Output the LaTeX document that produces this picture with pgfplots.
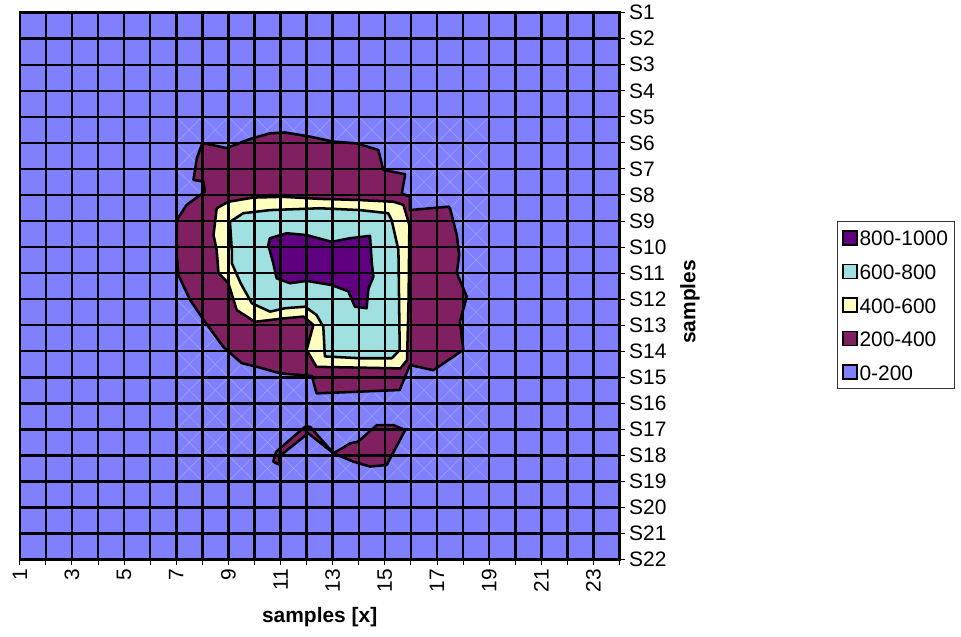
\documentclass[border=0pt]{standalone}
\usepackage{pgfplots}
\pgfplotsset{compat=1.18}
\usepackage{fontspec}
\setmainfont{Liberation Sans}

\definecolor{bandA}{HTML}{8080FF} % 0-200
\definecolor{bandB}{HTML}{802060} % 200-400
\definecolor{bandC}{HTML}{FFFFC0} % 400-600
\definecolor{bandD}{HTML}{A0E0E0} % 600-800
\definecolor{bandE}{HTML}{600080} % 800-1000

\newcommand{\chartfont}{\fontsize{15.7}{18}\selectfont}

\begin{document}
\begin{tikzpicture}
\path[use as bounding box] (0,0) rectangle (720.75pt,-477pt);
\begin{axis}[
  at={(14.85pt,-9.525pt)}, anchor=north west,
  scale only axis, width=449.8pt, height=410.1pt,
  xmin=1, xmax=24, ymin=1, ymax=22,
  y dir=reverse,
  axis on top,
  xtick={1,...,24},
  xticklabels={1,,3,,5,,7,,9,,11,,13,,15,,17,,19,,21,,23,},
  ytick={1,...,22},
  yticklabels={S1,S2,S3,S4,S5,S6,S7,S8,S9,S10,S11,S12,S13,S14,S15,S16,S17,S18,S19,S20,S21,S22},
  xtick pos=lower, ytick pos=right, yticklabel pos=right,
  tick align=outside, major tick length=3.75pt,
  tick style={black, line width=0.75pt},
  grid=major, major grid style={black, line width=1.9pt},
  axis line style={black, line width=1.9pt},
  ticklabel style={font=\chartfont},
  xticklabel style={rotate=90, anchor=east},
  xlabel={\bfseries samples [x]},
  xlabel style={font=\chartfont, at={(axis description cs:0.5,-0.1143)}, anchor=base},
  ylabel={\bfseries samples},
  ylabel style={font=\chartfont, at={(axis description cs:1.1176,0.471)}, anchor=center, rotate=0},
  legend style={
    at={(axis description cs:1.3622,0.6196)}, anchor=north west,
    draw=black!80, line width=0.75pt, fill=white,
    font=\chartfont,
    inner xsep=3.5pt, inner ysep=4.5pt,
    row sep=9.2pt, column sep=0pt,
    nodes={inner xsep=1.5pt, inner ysep=2pt, text height=12pt, text depth=0pt},
  },
  legend cell align=left,
  legend image code/.code={\draw[#1, draw=black, line width=1.2pt] (0pt,-5.25pt) rectangle (10.5pt,5.25pt);},
]

% 0-200 band covers the whole surface
\addplot[fill=bandA, draw=none, forget plot] coordinates {(1,1) (24,1) (24,22) (1,22) (1,1)};

% faint surface triangulation around the peak
\pgfplotsinvokeforeach{-13,...,11}{
  \draw[white, opacity=0.22, line width=0.5pt]
    (axis cs:{max(7,5-#1)},{max(7,5-#1)+#1}) -- (axis cs:{min(19,19-#1)},{min(19,19-#1)+#1});
}
\pgfplotsinvokeforeach{13,...,37}{
  \draw[white, opacity=0.22, line width=0.5pt]
    (axis cs:{max(7,#1-19)},{#1-max(7,#1-19)}) -- (axis cs:{min(19,#1-5)},{#1-min(19,#1-5)});
}

\begin{scope}[line join=round, line cap=round]
% 200-400 main region
\addplot[fill=bandB, draw=black, line width=1.9pt, forget plot] coordinates {
 (8.0,6.0) (8.93,6.2) (9.83,5.85) (10.6,5.63) (11.17,5.6) (12.13,5.76)
 (13.03,5.95) (13.92,6.02) (14.75,6.27) (14.94,7.04) (15.78,7.2) (15.65,7.94)
 (15.96,8.07) (15.96,8.58) (17.44,8.45) (17.5,8.51) (17.76,9.54) (17.85,10.3)
 (17.76,11.0) (18.14,11.9) (17.88,12.87) (18.01,13.95) (16.86,14.73) (15.96,14.53)
 (15.57,15.49) (12.38,15.62) (12.2,14.95) (10.98,14.85) (10.1,14.6) (9.51,14.46)
 (8.8,13.83) (8.1,12.87) (7.53,12.03) (7.08,11.07) (7.02,10.3) (7.02,8.96)
 (7.4,8.38) (8.1,7.87) (8.04,7.49) (7.66,7.42) (7.79,6.59) (8.0,6.0)};

% 200-400 small patches near S17-S18
\addplot[fill=bandB, draw=black, line width=1.9pt, forget plot] coordinates {
 (10.83,17.86) (11.94,16.9) (12.13,16.9) (13.03,17.92) (12.06,17.15)
 (10.94,18.05) (10.98,18.37) (10.72,18.24) (10.83,17.86)};
\addplot[fill=bandB, draw=black, line width=1.9pt, forget plot] coordinates {
 (13.03,17.92) (13.67,17.54) (13.98,17.47) (14.69,16.84) (15.33,16.84)
 (15.78,17.03) (15.07,18.37) (14.43,18.43) (13.79,18.24) (13.03,17.92)};

% 400-600
\addplot[fill=bandC, draw=black, line width=1.9pt, forget plot] coordinates {
 (8.55,8.51) (9.0,8.26) (9.96,8.1) (11.1,8.07) (12.5,8.15) (13.92,8.19)
 (15.33,8.26) (15.71,8.38) (15.94,9.15) (15.91,12.03) (15.85,14.34) (15.6,14.66)
 (12.38,14.6) (12.0,13.95) (12.26,12.99) (11.88,12.67) (11.11,12.74) (10.02,12.87)
 (9.32,12.42) (9.0,11.39) (8.62,11.0) (8.55,10.11) (8.43,9.54) (8.55,8.51)};

% 600-800
\addplot[fill=bandD, draw=black, line width=1.9pt, forget plot] coordinates {
 (9.06,9.03) (9.57,8.7) (10.6,8.58) (12.5,8.51) (14.04,8.58) (15.13,8.7)
 (15.26,8.96) (15.52,10.11) (15.57,13.95) (15.27,14.27) (14.04,14.27) (12.7,14.2)
 (12.64,13.06) (12.38,12.61) (11.94,12.29) (11.17,12.35) (10.6,12.48) (9.9,12.16)
 (9.47,11.39) (9.13,10.62) (9.13,10.11) (9.06,9.03)};

% 800-1000
\addplot[fill=bandE, draw=black, line width=1.9pt, forget plot] coordinates {
 (10.59,9.66) (11.24,9.47) (12.0,9.54) (12.96,9.8) (13.67,9.66) (14.43,9.57)
 (14.5,10.62) (14.56,11.14) (14.37,11.6) (14.3,12.35) (13.85,12.29) (13.6,11.7)
 (12.96,11.46) (12.0,11.3) (11.36,11.39) (10.85,11.2) (10.72,10.62) (10.53,9.92)
 (10.59,9.66)};
\end{scope}

\addlegendimage{fill=bandE}\addlegendentry{800-1000}
\addlegendimage{fill=bandD}\addlegendentry{600-800}
\addlegendimage{fill=bandC}\addlegendentry{400-600}
\addlegendimage{fill=bandB}\addlegendentry{200-400}
\addlegendimage{fill=bandA}\addlegendentry{0-200}
\end{axis}
\end{tikzpicture}
\end{document}
